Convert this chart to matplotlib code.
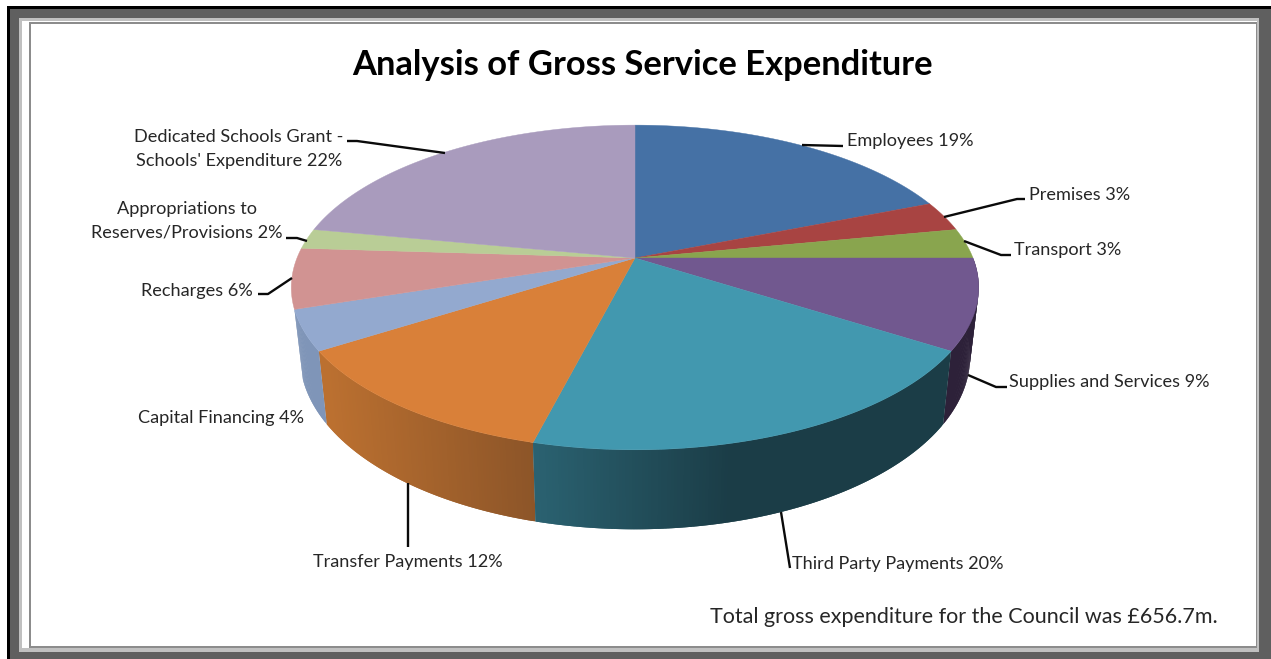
import numpy as np
import matplotlib
matplotlib.use("Agg")
import matplotlib.pyplot as plt
from matplotlib.patches import Rectangle
from matplotlib.colors import to_rgb

plt.rcParams["font.family"] = ["Lato", "DejaVu Sans"]

# Chart content
TITLE = "Analysis of Gross Service Expenditure"
FOOTNOTE = "Total gross expenditure for the Council was £656.7m."
categories = ["Employees", "Premises", "Transport", "Supplies and Services",
              "Third Party Payments", "Transfer Payments", "Capital Financing",
              "Recharges", "Appropriations to\nReserves/Provisions",
              "Dedicated Schools Grant -\nSchools' Expenditure"]
values = [19, 3, 3, 9, 20, 12, 4, 6, 2, 22]

# Slice styling
top_colors = ["#4571a5", "#a84442", "#89a54e", "#71588f", "#4298af",
              "#d98039", "#93a9cf", "#d19392", "#b9cd96", "#a99bbd"]
# Rim shading per slice: (x where the gradient starts, colour, x where it ends, colour)
side_shades = {
    3: (940, "#2d2139", 980, "#2d2139"),
    4: (538, "#2a6170", 730, "#1b3d47"),
    5: (327, "#bb7030", 540, "#8b5428"),
    6: (300, "#7f95b8", 327, "#7f95b8"),
}

# Perspective projection of the pie disc, in pixels
CX, CY = 635.0, 258.0
SX, SY = 338.0, 157.0
TILT = 0.1815
DEPTH = 67.0
BOTTOM_SHRINK = 0.975
BOTTOM_STRETCH = 1.065


def project(frac):
    """Map a clockwise fraction of the pie (0 = 12 o'clock) to the top face."""
    t = 2 * np.pi * np.asarray(frac)
    x, y = np.sin(t), np.cos(t)
    w = 1 + TILT * y
    return CX + SX * x / w, CY - SY * y / w


def project_bottom(frac):
    x, y = project(frac)
    return CX + BOTTOM_SHRINK * (x - CX), CY + BOTTOM_STRETCH * (y - CY) + DEPTH


fig = plt.figure(figsize=(12.71, 6.59), dpi=100, facecolor="white")
ax = fig.add_axes([0, 0, 1, 1])
ax.set_xlim(0, 1271)
ax.set_ylim(659, 0)
ax.axis("off")


def rect(x0, y0, x1, y1, color, z=0):
    ax.add_patch(Rectangle((x0, y0), x1 - x0, y1 - y0, fc=color, ec="none", zorder=z))


# Picture frame, nested from the outside in
rect(0, 0, 1271, 659, "white", 0)
rect(7, 6, 1271, 659, "#000000", 0.1)
rect(10, 9, 1271, 659, "#5f5f5f", 0.2)
rect(19, 18, 1259, 652, "#c0c0c0", 0.3)
rect(22, 21, 1257, 648, "#ffffff", 0.4)
rect(29, 22, 1257, 648, "#8c8c8c", 0.5)
rect(31, 24, 1256, 646, "#ffffff", 0.6)

edges = np.concatenate([[0], np.cumsum(values)]) / sum(values)

# Rim of the front slices: shaded bands, each overlapped by the next to hide seams
for i, (x0, c0, x1, c1) in side_shades.items():
    fr = np.linspace(edges[i], edges[i + 1], max(int(values[i] * 8), 6))
    tx, ty = project(fr)
    bx, by = project_bottom(fr)
    c0, c1 = np.array(to_rgb(c0)), np.array(to_rgb(c1))
    for j in range(len(fr) - 1):
        k = min(j + 2, len(fr) - 1)
        s = np.clip((0.5 * (tx[j] + tx[j + 1]) - x0) / (x1 - x0), 0, 1)
        col = c0 + s * (c1 - c0)
        ax.fill(np.r_[tx[j:k + 1], bx[j:k + 1][::-1]],
                np.r_[ty[j:k + 1], by[j:k + 1][::-1]],
                fc=col, ec="none", zorder=1 + i * 0.01 + j * 1e-4)

# Top faces
for i, col in enumerate(top_colors):
    fr = np.linspace(edges[i], edges[i + 1], max(values[i] * 8, 8))
    x, y = project(fr)
    ax.fill(np.r_[CX, x], np.r_[CY, y], fc=col, ec=col, lw=0.3, zorder=2)

# Leader lines from the pie to the labels
leaders = [
    ([802, 843], [145, 146]),
    ([944, 1017, 1025], [217, 199, 199]),
    ([964, 1001, 1011], [241, 255, 255]),
    ([968, 996, 1007], [375, 387, 387]),
    ([781, 790], [512, 568]),
    ([408, 408], [483, 547]),
    None,
    ([292, 268, 258], [278, 294, 294]),
    ([307, 297, 286], [241, 238, 238]),
    ([445, 357, 347], [153, 141, 141]),
]
for seg in leaders:
    if seg:
        ax.plot(seg[0], seg[1], color="#0a0a0a", lw=1.7, zorder=3,
                solid_capstyle="butt", solid_joinstyle="round")

# Data labels: anchor x, centre y, horizontal alignment
label_places = [
    (847, 141, "left"), (1029, 195, "left"), (1014, 250, "left"),
    (1009, 382, "left"), (792, 564, "left"), (313, 562, "left"),
    (138, 418, "left"), (141, 291, "left"), (187, 221, "center"),
    (239, 149, "center"),
]
for name, v, (x, y, ha) in zip(categories, values, label_places):
    ax.text(x, y, f"{name} {v}%", ha=ha, va="center", fontsize=13.05,
            color="#262626", linespacing=1.55, zorder=4)

ax.text(642, 65, TITLE, ha="center", va="center", fontsize=24.8, fontweight="bold",
        color="black", zorder=4)
ax.text(710, 617, FOOTNOTE, ha="left", va="center", fontsize=15.5,
        color="#262626", zorder=4)

fig.savefig("out.png", dpi=100)
